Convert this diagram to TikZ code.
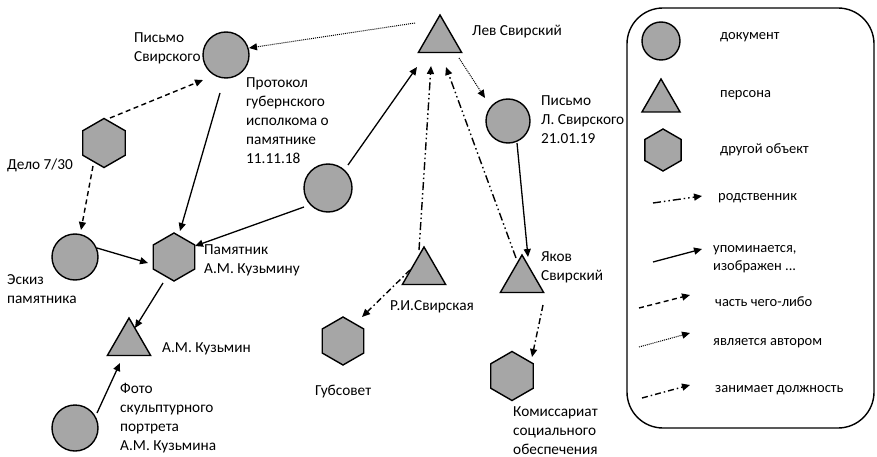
\documentclass[tikz,border=0pt]{standalone}
\usepackage{fontspec}
\setmainfont{Carlito}
\usetikzlibrary{arrows.meta,shapes.geometric,calc}
\definecolor{shapefill}{RGB}{166,166,166}
\tikzset{
  shp/.style={draw=black,line width=1.4pt,fill=shapefill,inner sep=0pt},
  docc/.style={shp,circle,minimum size=#1},
  pers/.style={shp,regular polygon,regular polygon sides=3,minimum size=#1},
  obj/.style={shp,regular polygon,regular polygon sides=6,shape border rotate=30,minimum size=#1},
  lbl/.style={font=\fontsize{15.3}{19}\selectfont,align=left,anchor=west,inner sep=0pt},
  leglbl/.style={font=\fontsize{14.5}{18.5}\selectfont,align=left,anchor=west,inner sep=0pt},
  tip/.style={-{Triangle[length=8pt,width=7pt]}},
  ment/.style={tip,line width=1.3pt},
  part/.style={tip,line width=1.4pt,dash pattern=on 5pt off 3.5pt},
  auth/.style={tip,line width=1pt,dash pattern=on 1pt off 1pt},
  rel/.style={tip,line width=1.4pt,dash pattern=on 8pt off 3pt on 1.5pt off 3pt on 1.5pt off 3pt},
  posn/.style={tip,line width=1.4pt,dash pattern=on 6pt off 3pt on 1.5pt off 3pt},
}
\begin{document}
\begin{tikzpicture}[x=1pt,y=-1pt]
\useasboundingbox (0,0) rectangle (877,457);
% nodes
\node[docc=46pt] (ps) at (226,55) {};
\node[obj=49pt] (delo) at (104,143) {};
\node[docc=46pt] (eskiz) at (75,257) {};
\node[obj=48pt] (pam) at (174,257) {};
\node[pers=50pt] (kuz) at (129,343) {};
\node[docc=46pt] (foto) at (75,428) {};
\node[docc=48pt] (prot) at (328,188) {};
\node[pers=50pt] (lev) at (440,40) {};
\node[docc=44pt] (pl) at (508,121) {};
\node[pers=50pt] (ri) at (424,272) {};
\node[obj=48pt] (gub) at (343,341) {};
\node[pers=50pt] (yak) at (522,280) {};
\node[obj=49pt] (kom) at (512,376) {};
% labels
\node[lbl] (tps) at (134,48) {Письмо\\Свирского};
\node[lbl] (tprot) at (246,121) {Протокол\\губернского\\исполкома о\\памятнике\\11.11.18};
\node[lbl] (tdelo) at (7,165) {Дело 7/30};
\node[lbl] (teskiz) at (7,289) {Эскиз\\памятника};
\node[lbl] (tpam) at (204,260) {Памятник\\А.М. Кузьмину};
\node[lbl] (tkuz) at (162,349) {А.М. Кузьмин};
\node[lbl] (tfoto) at (120,418) {Фото\\скульптурного\\портрета\\А.М. Кузьмина};
\node[lbl] (tlev) at (472,32) {Лев Свирский};
\node[lbl] (tpl) at (541,120) {Письмо\\Л. Свирского\\21.01.19};
\node[lbl] (tri) at (390,307) {Р.И.Свирская};
\node[lbl] (tgub) at (315,392) {Губсовет};
\node[lbl] (tyak) at (541,267) {Яков\\Свирский};
\node[lbl] (tkom) at (513,431) {Комиссариат\\социального\\обеспечения};
% edges
\draw[auth] ($(lev)+(-25,-17)$) -- ($(ps)+(23,-7)$);
\draw[auth] ($(lev)+(19,18)$) -- ($(pl)+(-23,-23)$);
\draw[ment] ($(prot)+(20,-23)$) -- ($(lev)+(-23,27)$);
\draw[rel] ($(ri)+(-5,-22)$) -- ($(lev)+(-9,26)$);
\draw[rel] ($(yak)+(-6,-22)$) -- ($(lev)+(6,27)$);
\draw[posn] ($(ri)+(-14,-2)$) -- ($(gub)+(19,-24)$);
\draw[posn] ($(yak)+(21,25)$) -- ($(kom)+(20,-19)$);
\draw[ment] ($(pl)+(9,22)$) -- ($(yak)+(6,-23)$);
\draw[ment] ($(prot)+(-24,19)$) -- ($(pam)+(21,-11)$);
\draw[ment] ($(ps)+(-6,38)$) -- ($(pam)+(6,-26)$);
\draw[part] ($(delo)+(6,-25)$) -- ($(ps)+(-23,25)$);
\draw[part] ($(delo)+(-11,23)$) -- ($(eskiz)+(6,-27)$);
\draw[ment] ($(eskiz)+(22,-9)$) -- ($(pam)+(-26,6)$);
\draw[ment] ($(pam)+(-11,26)$) -- ($(kuz)+(6,-15)$);
\draw[ment] ($(foto)+(22,-15)$) -- ($(kuz)+(-9,20)$);
% legend
\draw[line width=1.4pt,rounded corners=36pt] (627,8) rectangle (874,428);
\node[docc=38pt] (lc) at (661,41) {};
\node[pers=44pt] (lt) at (661,101) {};
\node[obj=42pt] (lh) at (663,150) {};
\node[leglbl] (tlc) at (720,37) {документ};
\node[leglbl] (tlt) at (720,95) {персона};
\node[leglbl] (tlh) at (720,150) {другой объект};
\node[leglbl] (tlrel) at (718,198) {родственник};
\node[leglbl] (tlment) at (713,259) {упоминается,\\изображен ...};
\node[leglbl] (tlpart) at (715,302) {часть чего-либо};
\node[leglbl] (tlauth) at (713,343) {является автором};
\node[leglbl] (tlpos) at (715,390) {занимает должность};
\coordinate (r1) at (653,203); \coordinate (r2) at (702,196);
\coordinate (m1) at (653,262); \coordinate (m2) at (702,249);
\coordinate (p1) at (639,308); \coordinate (p2) at (690,295);
\coordinate (a1) at (639,347); \coordinate (a2) at (690,333);
\coordinate (o1) at (642,398); \coordinate (o2) at (690,385);
\draw[rel] (r1) -- (r2);
\draw[ment] (m1) -- (m2);
\draw[part] (p1) -- (p2);
\draw[auth] (a1) -- (a2);
\draw[posn] (o1) -- (o2);
\end{tikzpicture}
\end{document}
